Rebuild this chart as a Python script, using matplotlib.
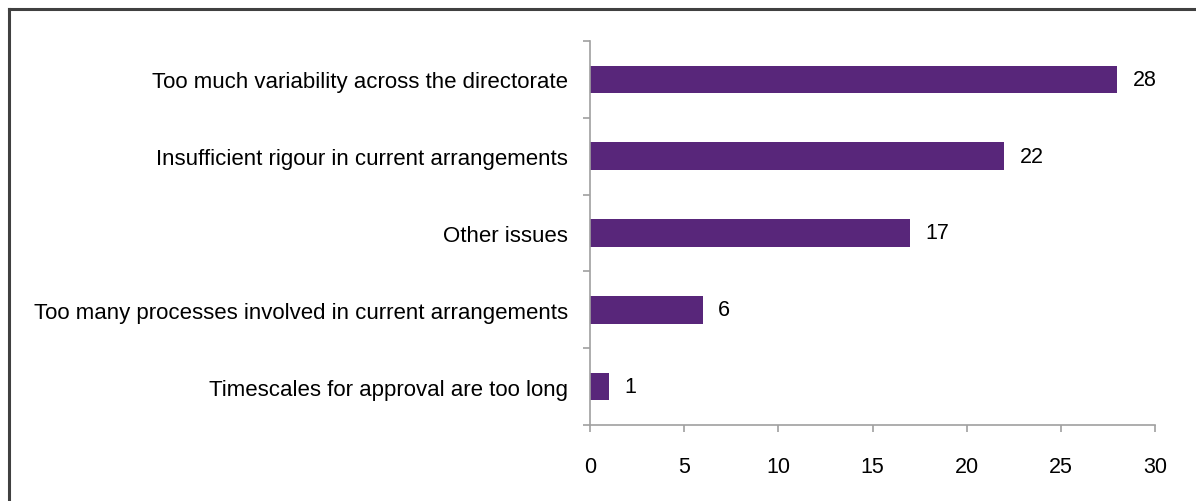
import matplotlib
matplotlib.use('Agg')
import matplotlib.pyplot as plt
import numpy as np

# survey responses, top to bottom as shown
categories = ['Too much variability across the directorate',
              'Insufficient rigour in current arrangements',
              'Other issues',
              'Too many processes involved in current arrangements',
              'Timescales for approval are too long']
counts = [28, 22, 17, 6, 1]
x_ticks = [0, 5, 10, 15, 20, 25, 30]

plt.rcParams['font.family'] = ['Liberation Sans', 'DejaVu Sans']
plt.rcParams['font.size'] = 15

fig = plt.figure(figsize=(11.96, 5.02), dpi=100)
ax = fig.add_axes([590 / 1196, 1 - 426 / 502, (1155 - 590) / 1196, (426 - 42) / 502])

y = np.arange(len(categories))[::-1]
bars = ax.barh(y, counts, height=0.36, color='#58267A')
for yi, c in zip(y, counts):
    ax.text(c + 0.8, yi, str(c), va='center', ha='left', fontsize=15.5)

ax.set_xlim(0, 30)
ax.set_ylim(-0.5, len(categories) - 0.5)
ax.set_xticks(x_ticks)
ax.set_yticks(y)
ax.set_yticklabels(categories, fontsize=16)
ax.set_yticks(np.arange(-0.5, len(categories)), minor=True)

for s in ['top', 'right']:
    ax.spines[s].set_visible(False)
for s in ['left', 'bottom']:
    ax.spines[s].set_color('#A0A0A0')
    ax.spines[s].set_linewidth(1.2)

ax.tick_params(axis='y', which='major', length=0, pad=16)
ax.tick_params(axis='y', which='minor', length=5, color='#A0A0A0', width=1.2)
ax.tick_params(axis='x', length=5, color='#A0A0A0', width=1.2, pad=17, labelsize=15.5)

# frame around the chart (cut off at right and bottom)
fig.add_artist(plt.Line2D([9 / 1196, 9 / 1196], [0, 1 - 10 / 502], transform=fig.transFigure,
                          color='#404040', linewidth=2.2))
fig.add_artist(plt.Line2D([9 / 1196, 1], [1 - 10 / 502, 1 - 10 / 502], transform=fig.transFigure,
                          color='#404040', linewidth=2.2))

fig.savefig('out.png', dpi=100)
